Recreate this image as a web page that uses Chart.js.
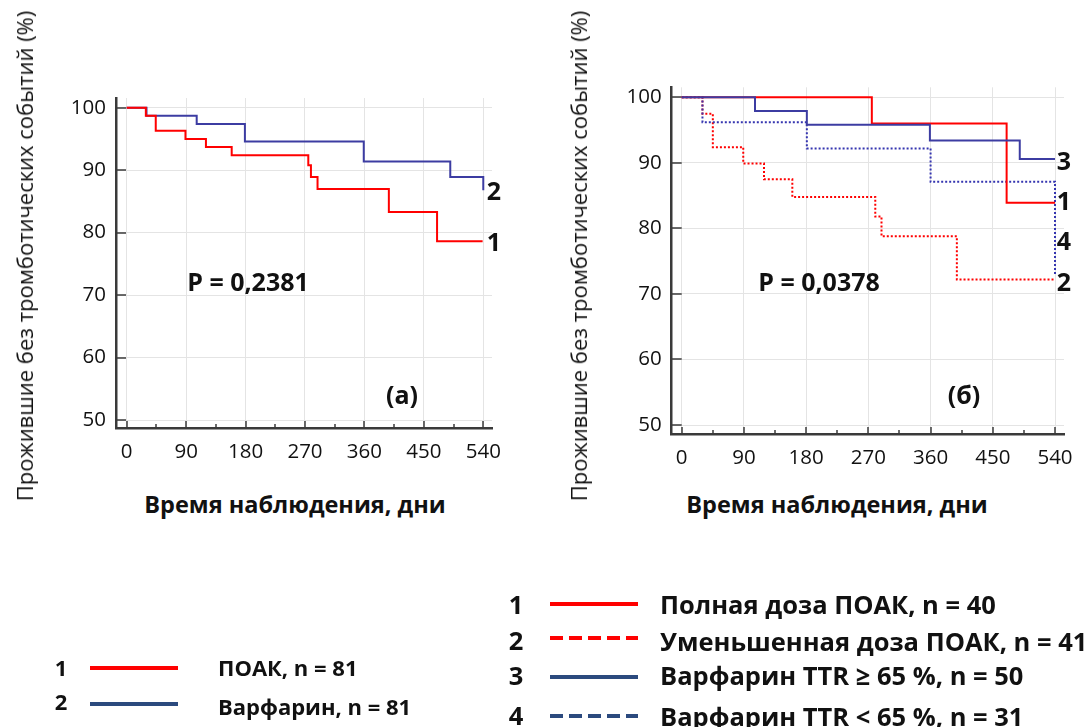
<!DOCTYPE html>
<html><head><meta charset="utf-8">
<script src="https://cdn.jsdelivr.net/npm/chart.js@4/dist/chart.umd.min.js"></script>
<style>
html,body{margin:0;padding:0;background:#fff;}
body{width:1088px;height:727px;position:relative;overflow:hidden;font-family:"Open Sans",sans-serif;color:#111;}
canvas{position:absolute;top:0;}
.t{position:absolute;white-space:nowrap;transform:translate(-50%,-50%);line-height:1;}
.l{position:absolute;white-space:nowrap;transform:translateY(-50%);line-height:1;}
.yt{font-size:22px;transform:translate(-50%,-50%) rotate(-90deg);}
.xt{font-size:23.5px;font-weight:700;}
.ann{font-size:25px;font-weight:700;}
.end{font-size:25px;font-weight:700;}
.lgL{font-size:22px;font-weight:700;}
.lgR{font-size:25.5px;font-weight:700;}
svg{position:absolute;left:0;top:0;}
</style></head>
<body>
<canvas id="ca" width="544" height="480" style="left:0"></canvas>
<canvas id="cb" width="544" height="480" style="left:544px"></canvas>

<div class="t yt" style="left:24px;top:256px">Прожившие без тромботических событий (%)</div>
<div class="t yt" style="left:578px;top:256px">Прожившие без тромботических событий (%)</div>
<div class="t xt" style="left:295px;top:505px">Время наблюдения, дни</div>
<div class="t xt" style="left:837px;top:505px">Время наблюдения, дни</div>
<div class="t ann" style="left:248px;top:281px">P = 0,2381</div>
<div class="t ann" style="left:402px;top:394px">(а)</div>
<div class="t ann" style="left:819px;top:281px">P = 0,0378</div>
<div class="t ann" style="left:964px;top:394px">(б)</div>
<div class="t end" style="left:494px;top:190px">2</div>
<div class="t end" style="left:494px;top:241px">1</div>
<div class="t end" style="left:1064px;top:160px">3</div>
<div class="t end" style="left:1064px;top:200px">1</div>
<div class="t end" style="left:1064px;top:240px">4</div>
<div class="t end" style="left:1064px;top:281px">2</div>

<svg width="1088" height="727">
  <line x1="90" y1="668" x2="178" y2="668" stroke="#ff0000" stroke-width="4"/>
  <line x1="90" y1="704" x2="178" y2="704" stroke="#2b4a7e" stroke-width="4"/>
  <line x1="550" y1="604" x2="638" y2="604" stroke="#ff0000" stroke-width="4"/>
  <line x1="550" y1="638" x2="638" y2="638" stroke="#ff0000" stroke-width="4" stroke-dasharray="13 6"/>
  <line x1="550" y1="677" x2="638" y2="677" stroke="#2b4a7e" stroke-width="4"/>
  <line x1="550" y1="716" x2="638" y2="716" stroke="#2b4a7e" stroke-width="4" stroke-dasharray="13 6"/>
</svg>
<div class="t lgL" style="left:61px;top:667px">1</div>
<div class="l lgL" style="left:218px;top:667px">ПОАК, n = 81</div>
<div class="t lgL" style="left:61px;top:701px">2</div>
<div class="l lgL" style="left:218px;top:706px">Варфарин, n = 81</div>
<div class="t lgR" style="left:516px;top:605px">1</div>
<div class="l lgR" style="left:660px;top:605px">Полная доза ПОАК, n = 40</div>
<div class="t lgR" style="left:516px;top:641px">2</div>
<div class="l lgR" style="left:660px;top:642px">Уменьшенная доза ПОАК, n = 41</div>
<div class="t lgR" style="left:516px;top:676px">3</div>
<div class="l lgR" style="left:660px;top:676px">Варфарин TTR ≥ 65 %, n = 50</div>
<div class="t lgR" style="left:516px;top:716px">4</div>
<div class="l lgR" style="left:660px;top:717px">Варфарин TTR &lt; 65 %, n = 31</div>

<script>
// ---- axis ticks ----
const xTickValues = [0, 90, 180, 270, 360, 450, 540];
const xMinorTicks = [45, 135, 225, 315, 405, 495];
const yTickValues = [50, 60, 70, 80, 90, 100];

// ---- panel (а): ПОАК vs Варфарин ----
const poakDays = [0, 29, 44, 89, 120, 159, 275, 279, 289, 397, 470, 539];
const poakSurv = [100, 98.7, 96.3, 95.0, 93.7, 92.4, 90.8, 88.9, 87.0, 83.3, 78.6, 78.6];
const warfDays = [0, 30, 106, 179, 359, 490, 540];
const warfSurv = [100, 98.7, 97.4, 94.6, 91.4, 88.9, 86.8];

// ---- panel (б): by dose / TTR ----
const fullDays = [0, 275, 470, 540];
const fullSurv = [100, 96.0, 83.9, 83.9];
const reducedDays = [0, 30, 45, 89, 119, 160, 280, 289, 398, 540];
const reducedSurv = [100, 97.5, 92.4, 89.9, 87.5, 84.8, 81.8, 78.8, 72.2, 72.2];
const ttrHighDays = [0, 106, 181, 359, 489, 540];
const ttrHighSurv = [100, 97.9, 95.8, 93.4, 90.6, 90.6];
const ttrLowDays = [0, 30, 181, 360, 540];
const ttrLowSurv = [100, 96.2, 92.2, 87.1, 72.8];

const RED = '#ff0000', BLUE = '#3c3ca2', BLUE_DOT = '#3535b0';
const pts = (d, s) => d.map((v, i) => ({x: v, y: s[i]}));

const inwardTicks = {
  id: 'inwardTicks',
  beforeDatasetsDraw(chart) {
    const {ctx, scales: {x, y}, chartArea: a} = chart;
    ctx.save();
    ctx.strokeStyle = '#3a3a3a';
    ctx.lineWidth = 1.5;
    const seg = (x1, y1, x2, y2) => { ctx.beginPath(); ctx.moveTo(x1, y1); ctx.lineTo(x2, y2); ctx.stroke(); };
    xTickValues.forEach(v => { const p = Math.round(x.getPixelForValue(v)); seg(p, a.bottom, p, a.bottom - 7); });
    xMinorTicks.forEach(v => { const p = Math.round(x.getPixelForValue(v)); seg(p, a.bottom, p, a.bottom - 4); });
    yTickValues.forEach(v => { const p = Math.round(y.getPixelForValue(v)); seg(a.left, p, a.left + 10, p); });
    ctx.restore();
  }
};

function ds(d, s, color, dotted) {
  return {data: pts(d, s), borderColor: color, borderWidth: 2, stepped: 'before',
    pointRadius: 0, fill: false, tension: 0, borderDash: dotted ? [2, 2] : []};
}

function makeChart(id, datasets, cfg) {
  return new Chart(document.getElementById(id), {
    type: 'line',
    data: {datasets},
    plugins: [inwardTicks],
    options: {
      responsive: false, animation: false, devicePixelRatio: 1,
      layout: {padding: cfg.padding},
      plugins: {legend: {display: false}, tooltip: {enabled: false}},
      scales: {
        x: {
          type: 'linear', min: cfg.xmin, max: cfg.xmax,
          afterBuildTicks: ax => { ax.ticks = xTickValues.map(v => ({value: v})); },
          afterFit: ax => { ax.height = 40; },
          grid: {color: '#e4e4e4', lineWidth: 1, drawTicks: false},
          border: {display: true, color: '#3a3a3a', width: 2.5},
          ticks: {font: {family: 'Open Sans', size: 20.5}, color: '#111', padding: 12, maxRotation: 0}
        },
        y: {
          type: 'linear', min: cfg.ymin, max: cfg.ymax,
          afterBuildTicks: ax => { ax.ticks = yTickValues.map(v => ({value: v})); },
          afterFit: ax => { ax.width = cfg.yWidth; },
          grid: {color: '#e4e4e4', lineWidth: 1, drawTicks: false},
          border: {display: true, color: '#3a3a3a', width: 2.5},
          ticks: {font: {family: 'Open Sans', size: 20.5}, color: '#111', padding: 10}
        }
      }
    }
  });
}

makeChart('ca', [
  ds(poakDays, poakSurv, RED, false),
  ds(warfDays, warfSurv, BLUE, false)
], {xmin: -16.2, xmax: 553.2, ymin: 48.72, ymax: 101.55, yWidth: 116,
    padding: {left: 0, top: 98, right: 52, bottom: 12}});

makeChart('cb', [
  ds(ttrHighDays, ttrHighSurv, BLUE, false),
  ds(fullDays, fullSurv, RED, false),
  ds(ttrLowDays, ttrLowSurv, BLUE_DOT, true),
  ds(reducedDays, reducedSurv, RED, true)
], {xmin: -14.5, xmax: 553.0, ymin: 48.63, ymax: 101.53, yWidth: 127.7,
    padding: {left: 0, top: 87.3, right: 24, bottom: 6}});
</script>
</body></html>
